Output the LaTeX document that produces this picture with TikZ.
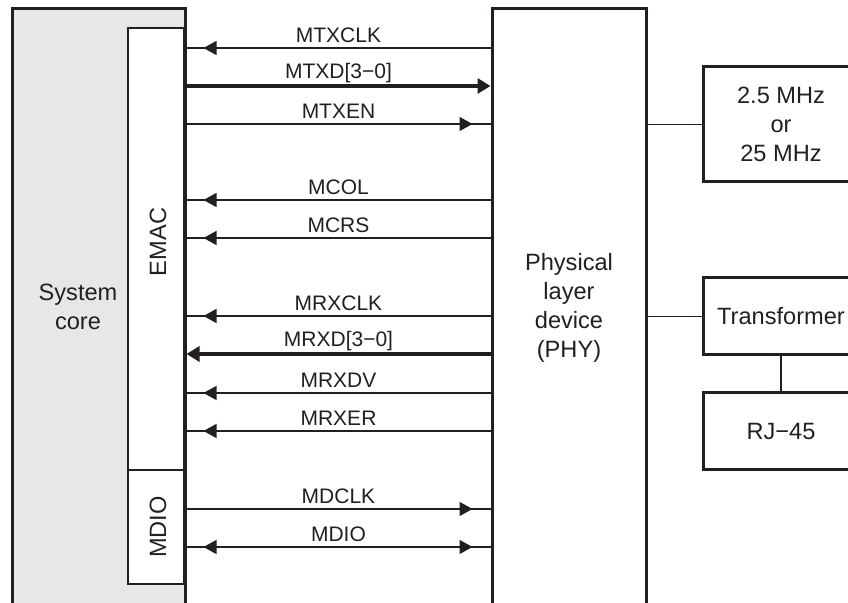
\documentclass[tikz,border=0pt]{standalone}
\usepackage{fontspec}
\setmainfont{Liberation Sans}
\usetikzlibrary{arrows.meta,decorations.markings}

\definecolor{ink}{HTML}{231F20}
\definecolor{corefill}{HTML}{E6E7E8}

\tikzset{
    blk/.style={draw=ink, line width=1.5pt, inner sep=0pt, align=center, text=ink,
        font=\fontsize{11.8}{14.5}\selectfont},
    subblk/.style={draw=ink, line width=0.65pt, fill=white, inner sep=0pt},
    lbl/.style={text=ink, inner sep=0pt, align=center, font=\fontsize{11.8}{14.5}\selectfont},
    siglbl/.style={text=ink, above, inner sep=2.5pt, text depth=0pt,
        font=\fontsize{10.5}{12}\selectfont},
    wire/.style={draw=ink, line width=0.65pt},
    sigin/.style={wire, postaction={decorate}, decoration={markings,
        mark=at position 8.5pt with {\arrowreversed{Triangle[length=6.5pt,width=7pt]}}}},
    sigout/.style={wire, postaction={decorate}, decoration={markings,
        mark=at position -9pt with {\arrow{Triangle[length=6.5pt,width=7pt]}}}},
    sigboth/.style={wire, postaction={decorate}, decoration={markings,
        mark=at position 8.5pt with {\arrowreversed{Triangle[length=6.5pt,width=7pt]}},
        mark=at position -9pt with {\arrow{Triangle[length=6.5pt,width=7pt]}}}},
    busout/.style={draw=ink, line width=2.3pt, -{Triangle[length=6.5pt,width=7.5pt]}},
    busin/.style={draw=ink, line width=2.3pt, {Triangle[length=6.5pt,width=7.5pt]}-}
}

\begin{document}
\begin{tikzpicture}[x=0.5pt, y=-0.5pt]
    \useasboundingbox (0,0) rectangle (848,603);
    \clip (0,0) rectangle (848,603);

    \node[blk, fill=corefill, minimum width=86.5pt, minimum height=298.5pt] (core) at (98.5,307.5) {};
    \node[subblk, minimum width=28pt, minimum height=221pt] (emac) at (156,249) {};
    \node[subblk, minimum width=28pt, minimum height=57pt] (mdio) at (156,527) {};
    \node[lbl] (corelbl) at (78,307) {System\\core};
    \node[lbl, rotate=90] (emaclbl) at (158,242) {EMAC};
    \node[lbl, rotate=90] (mdiolbl) at (158,527) {MDIO};

    \node[blk, fill=white, minimum width=77pt, minimum height=298.5pt] (phy) at (569,307.5) {Physical\\layer\\device\\(PHY)};

    \node[blk, minimum width=78pt, minimum height=57.5pt] (osc) at (781,124.5) {2.5 MHz\\or\\25 MHz};
    \node[blk, minimum width=78pt, minimum height=38.5pt] (xfmr) at (781,316.5) {Transformer};
    \node[blk, minimum width=78pt, minimum height=38.5pt] (rj) at (781,431.5) {RJ−45};

    \draw[wire] (osc.west -| phy.east) -- (osc.west);
    \draw[wire] (xfmr.west -| phy.east) -- (xfmr.west);
    \draw[wire] (xfmr.south) -- (rj.north);

    \foreach \yy/\name/\kind in {48/MTXCLK/sigin, 86/MTXD[3−0]/busout, 124/MTXEN/sigout,
        200/MCOL/sigin, 238/MCRS/sigin, 316/MRXCLK/sigin, 354/MRXD[3−0]/busin,
        393/MRXDV/sigin, 431/MRXER/sigin, 509/MDCLK/sigout, 547/MDIO/sigboth}
        \draw[\kind] (core.east |- 0,\yy) -- (phy.west |- 0,\yy) node[siglbl, midway] {\name};
\end{tikzpicture}
\end{document}
